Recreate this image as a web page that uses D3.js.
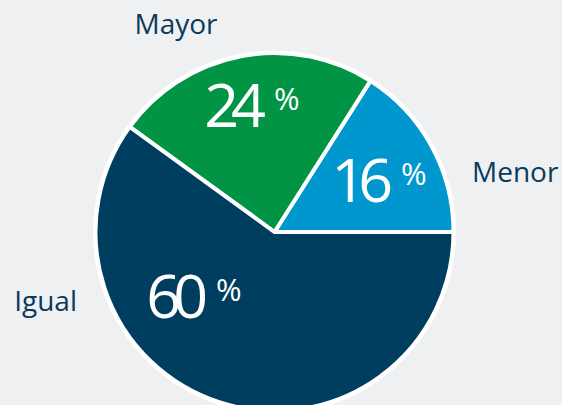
<!DOCTYPE html>
<html>
<head>
<meta charset="utf-8">
<script src="https://cdn.jsdelivr.net/npm/d3@7"></script>
<style>
  html, body { margin: 0; padding: 0; background: #eff0f2; }
  svg { display: block; }
</style>
</head>
<body>
<div id="app"></div>
<script>
`use strict`;

// chart values
const Categories = [`Menor`, `Mayor`, `Igual`];
const Shares = [16, 24, 60];
const Colours = [`#0097cf`, `#009444`, `#003e5f`];

const W = 562, H = 405;
const Centre = [274.5, 232];
const R = 179;

let SVG = d3.select(`#app`).append(`svg`).attr(`width`, W).attr(`height`, H);

SVG.append(`rect`).attr(`width`, W).attr(`height`, H).attr(`fill`, `#eff0f2`);

// slices run counter-clockwise from 3 o'clock
let pie = d3.pie().sort(null).value(S => S).startAngle(Math.PI / 2).endAngle(Math.PI / 2 - 2 * Math.PI);

let arc = d3.arc().innerRadius(0).outerRadius(R);

let Slices = pie(Shares);

let G = SVG.append(`g`).attr(`transform`, `translate(${Centre[0]},${Centre[1]})`);

G.append(`circle`).attr(`r`, R + 2.5).attr(`fill`, `#fff`);

G.selectAll(`path`).data(Slices)
  .enter().append(`path`)
  .attr(`d`, arc)
  .attr(`fill`, (S, i) => Colours[i])
  .attr(`stroke`, `#fff`)
  .style(`stroke-width`, 4)
  .style(`stroke-linejoin`, `miter`);

// value labels: [angle (deg, clockwise from north), radius] of the number's bottom-right corner
const ValuePin = [[75.7, 121.3], [-5.2, 105.5], [218.1, 109.3]];

let polar = (a, r) => [r * Math.sin(a * Math.PI / 180), -r * Math.cos(a * Math.PI / 180)];

G.selectAll(`text.val`).data(Slices)
  .enter().append(`text`)
  .attr(`class`, `val`)
  .attr(`x`, (S, i) => polar(ValuePin[i][0], ValuePin[i][1])[0] - 7)
  .attr(`y`, (S, i) => polar(ValuePin[i][0], ValuePin[i][1])[1])
  .attr(`fill`, `#fff`)
  .attr(`font-family`, `'Open Sans', 'Noto Sans', sans-serif`)
  .attr(`font-weight`, 400)
  .attr(`font-size`, `61px`)
  .attr(`text-anchor`, `end`)
  .style(`letter-spacing`, `-8px`)
  .text(S => S.data);

G.selectAll(`text.pct`).data(Slices)
  .enter().append(`text`)
  .attr(`class`, `pct`)
  .attr(`x`, (S, i) => polar(ValuePin[i][0], ValuePin[i][1])[0] + 9)
  .attr(`y`, (S, i) => polar(ValuePin[i][0], ValuePin[i][1])[1] - 17)
  .attr(`fill`, `#fff`)
  .attr(`font-family`, `'Open Sans', 'Noto Sans', sans-serif`)
  .attr(`font-size`, `31px`)
  .text(`%`);

// category labels outside the pie
const NamePin = [[472, 182, `start`], [176, 34, `middle`], [77, 311, `end`]];

SVG.selectAll(`text.name`).data(Categories)
  .enter().append(`text`)
  .attr(`class`, `name`)
  .attr(`x`, (S, i) => NamePin[i][0])
  .attr(`y`, (S, i) => NamePin[i][1])
  .attr(`text-anchor`, (S, i) => NamePin[i][2])
  .attr(`fill`, `#0b3a5c`)
  .attr(`font-family`, `'Open Sans', 'Noto Sans', sans-serif`)
  .attr(`font-size`, `28px`)
  .text(S => S);
</script>
</body>
</html>
